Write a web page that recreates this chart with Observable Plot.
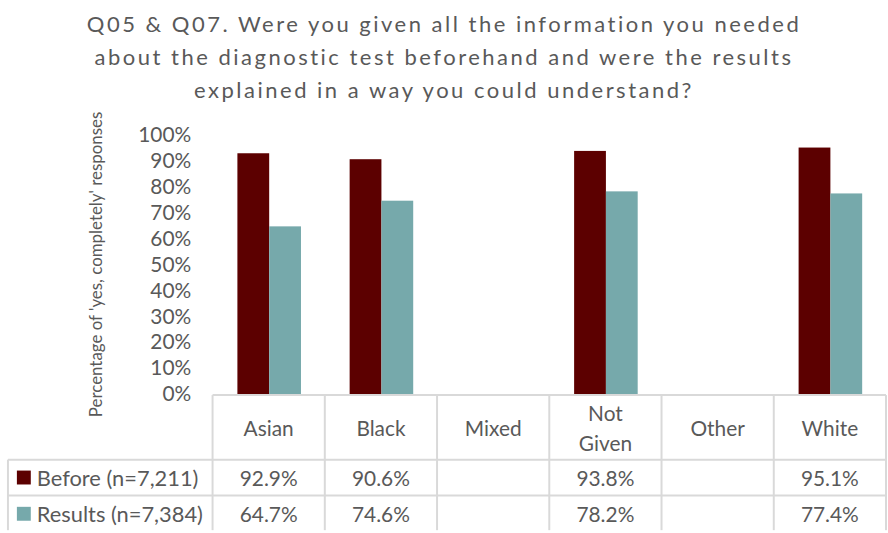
<!DOCTYPE html>
<html>
<head>
<meta charset="utf-8">
<script src="https://cdn.jsdelivr.net/npm/d3@7"></script>
<script src="https://cdn.jsdelivr.net/npm/@observablehq/plot@0.6"></script>
<style>
  html, body { margin: 0; padding: 0; background: #fff; }
  body { width: 888px; height: 533px; overflow: hidden; position: relative; }
  #title { font-family: Lato, "Open Sans", sans-serif; font-size: 22px; line-height: 33px; color: #595959;
           text-align: center; letter-spacing: 2.5px; width: 888px; height: 112px; padding-top: 7px; box-sizing: border-box; white-space: nowrap; }
  #chart svg { display: block; overflow: visible; }
</style>
</head>
<body>
<div id="title">Q05 &amp; Q07. Were you given all the information you needed<br>about the diagnostic test beforehand and were the results<br>explained in a way you could understand?</div>
<div id="chart"></div>
<script>
const categories = ["Asian", "Black", "Mixed", "Not Given", "Other", "White"];
const categoryLines = [["Asian"], ["Black"], ["Mixed"], ["Not", "Given"], ["Other"], ["White"]];
const series = ["Before (n=7,211)", "Results (n=7,384)"];
const beforeValues = [92.9, 90.6, null, 93.8, null, 95.1];
const resultsValues = [64.7, 74.6, null, 78.2, null, 77.4];
const yTicks = [0, 10, 20, 30, 40, 50, 60, 70, 80, 90, 100];
const colors = ["#5c0000", "#76a9ab"];
const yLabel = "Percentage of 'yes, completely' responses";

const seriesValues = [beforeValues, resultsValues];
const data = [];
categories.forEach((c, i) => {
  series.forEach((s, j) => {
    data.push({category: c, series: s, value: seriesValues[j][i]});
  });
});

const font = "Lato, 'Open Sans', sans-serif";
const textColor = "#595959";
const gridColor = "#d9d9d9";

const plot = Plot.plot({
  width: 894,
  height: 421,
  marginLeft: 212,
  marginRight: 0,
  marginTop: 23,
  marginBottom: 137,
  style: {fontFamily: font, fontSize: "21px", color: textColor, background: "transparent", overflow: "visible"},
  fx: {domain: categories, padding: 0, axis: null, label: null},
  x: {domain: series, paddingInner: 0, paddingOuter: 0.75, axis: null, label: null},
  y: {domain: [0, 100], label: null},
  color: {domain: series, range: colors},
  marks: [
    Plot.barY(data.filter(d => d.value != null), {fx: "category", x: "series", y: "value", fill: "series", inset: 0}),
    Plot.axisY({ticks: yTicks, tickFormat: d => d + "%", tickSize: 0, tickPadding: 22, label: null, fontSize: 21, fill: textColor, facetAnchor: "left"})
  ]
});

document.getElementById("chart").appendChild(plot);

const svg = d3.select(plot);
const fx = plot.scale("fx");
const y = plot.scale("y");
const bw = fx.bandwidth;
const y0 = y.apply(0);
const xLeft = fx.apply(categories[0]);
const xRight = fx.apply(categories[categories.length - 1]) + bw;
const tableLeft = 8;
const headerBottom = y0 + 66;
const row1Bottom = y0 + 102;
const tableBottom = 421;

const g = svg.append("g").attr("class", "table").attr("text-anchor", "start");

// horizontal lines
g.append("line").attr("x1", xLeft).attr("x2", xRight).attr("y1", y0 + 1).attr("y2", y0 + 1)
  .attr("stroke", gridColor).attr("stroke-width", 2);
[headerBottom, row1Bottom].forEach(yy => {
  g.append("line").attr("x1", tableLeft).attr("x2", xRight).attr("y1", yy).attr("y2", yy)
    .attr("stroke", gridColor).attr("stroke-width", 2);
});
// vertical lines
const edges = categories.map(c => fx.apply(c)).concat([xRight]);
edges.forEach(xx => {
  g.append("line").attr("x1", xx).attr("x2", xx).attr("y1", y0 + 1).attr("y2", tableBottom)
    .attr("stroke", gridColor).attr("stroke-width", 2);
});
g.append("line").attr("x1", tableLeft).attr("x2", tableLeft).attr("y1", headerBottom).attr("y2", tableBottom)
  .attr("stroke", gridColor).attr("stroke-width", 2);

// header labels
categories.forEach((c, i) => {
  const cx = fx.apply(c) + bw / 2;
  const lines = categoryLines[i];
  const mid = (y0 + 1 + headerBottom) / 2;
  lines.forEach((ln, k) => {
    g.append("text").attr("x", cx).attr("y", mid + (k - (lines.length - 1) / 2) * 30)
      .attr("text-anchor", "middle").attr("dominant-baseline", "central")
      .attr("font-family", font).attr("font-size", 21).attr("fill", textColor).text(ln);
  });
});

// rows
const rowMids = [(headerBottom + row1Bottom) / 2, (row1Bottom + tableBottom) / 2 + 1];
series.forEach((s, j) => {
  const ym = rowMids[j];
  g.append("rect").attr("x", 17).attr("y", ym - 7).attr("width", 14).attr("height", 14).attr("fill", colors[j]);
  g.append("text").attr("x", 37).attr("y", ym).attr("text-anchor", "start").attr("dominant-baseline", "central")
    .attr("font-family", font).attr("font-size", 22).attr("fill", textColor).text(s);
  categories.forEach((c, i) => {
    const v = seriesValues[j][i];
    if (v == null) return;
    g.append("text").attr("x", fx.apply(c) + bw / 2).attr("y", ym)
      .attr("text-anchor", "middle").attr("dominant-baseline", "central")
      .attr("font-family", font).attr("font-size", 21).attr("fill", textColor).text(v.toFixed(1) + "%");
  });
});

// y axis title
svg.append("text")
  .attr("transform", `translate(103, ${(y.apply(0) + y.apply(100)) / 2}) rotate(-90)`)
  .attr("text-anchor", "middle")
  .attr("font-family", font).attr("font-size", 17).attr("fill", textColor)
  .text(yLabel);
</script>
</body>
</html>
